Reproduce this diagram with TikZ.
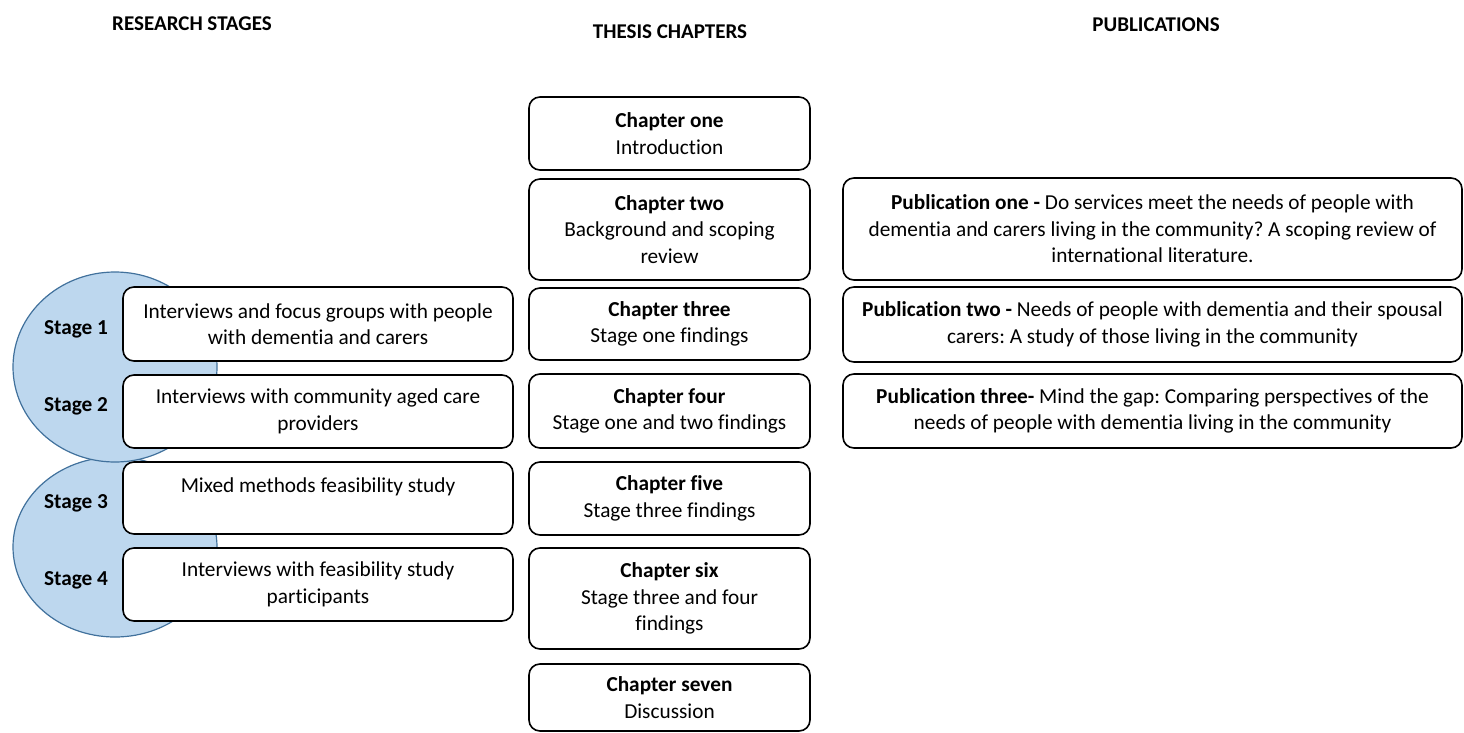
\documentclass[tikz,border=0pt]{standalone}
\usepackage{fontspec}
\setmainfont[Ligatures=NoCommon]{Carlito}
\usepackage{tikz}
\usetikzlibrary{shapes.geometric}
\definecolor{stageFill}{RGB}{189,215,238}
\definecolor{stageEdge}{RGB}{65,113,156}
\frenchspacing
\begin{document}
\begin{tikzpicture}[x=1pt, y=-1pt]
  \tikzstyle{box} = [draw, line width=1.6pt, fill=white, rectangle, rounded corners=11pt, align=center, inner sep=0pt, font={\fontsize{21.3}{26.5}\selectfont}]
  \tikzstyle{chapter} = [box, minimum width=281pt];
  \tikzstyle{stagebox} = [box, minimum width=390pt, minimum height=73pt];
  \tikzstyle{pub} = [box, minimum width=619pt];
  \tikzstyle{stageCircle} = [draw=stageEdge, line width=1.2pt, fill=stageFill, ellipse, inner sep=0pt, minimum width=204pt];
  \tikzstyle{stageLabel} = [font={\fontsize{21.3}{26.5}\selectfont\bfseries}];
  \tikzstyle{header} = [font={\fontsize{21}{26.5}\selectfont\bfseries}];
  \useasboundingbox (0,0) rectangle (1464,733);

  \node[header, name=hStages] at (192,24) {RESEARCH STAGES};
  \node[header, name=hChapters] at (670,32) {THESIS CHAPTERS};
  \node[header, name=hPubs] at (1156,25) {PUBLICATIONS};

  % circles behind the stage boxes
  \node[stageCircle, minimum height=180pt, name=circTwo] at (115,547) {};
  \node[stageCircle, minimum height=190pt, name=circOne] at (115,367) {};
  \node[stageLabel, name=lOne] at (76,329) {Stage 1};
  \node[stageLabel, name=lTwo] at (76,406) {Stage 2};
  \node[stageLabel, name=lThree] at (76,503) {Stage 3};
  \node[stageLabel, name=lFour] at (76,580) {Stage 4};

  \node[stagebox, minimum height=74pt, name=sOne] at (318,324) {Interviews and focus groups with people\\with dementia and carers};
  \node[stagebox, name=sTwo] at (318,411.5) {Interviews with community aged care\\providers};
  \node[stagebox, minimum height=72pt, name=sThree] at (318,498) {Mixed methods feasibility study\\\mbox{}};
  \node[stagebox, name=sFour] at (318,584.5) {Interviews with feasibility study\\participants};

  \node[chapter, minimum height=73pt, name=chOne] at (669.5,133.5) {\textbf{Chapter one}\\Introduction};
  \node[chapter, minimum height=101pt, name=chTwo] at (669.5,229.5) {\textbf{Chapter two}\\Background and scoping\\review};
  \node[chapter, minimum height=72pt, name=chThree] at (669.5,324) {\textbf{Chapter three}\\Stage one findings};
  \node[chapter, minimum height=74pt, name=chFour] at (669.5,411) {\textbf{Chapter four}\\Stage one and two findings};
  \node[chapter, minimum height=73pt, name=chFive] at (669.5,498.5) {\textbf{Chapter five}\\Stage three findings};
  \node[chapter, minimum height=101pt, name=chSix] at (669.5,598.5) {\textbf{Chapter six}\\Stage three and four\\findings};
  \node[chapter, minimum height=67pt, name=chSeven] at (669.5,697.5) {\textbf{Chapter seven}\\Discussion};

  \node[pub, minimum height=102pt, name=pOne] at (1152.5,229) {\textbf{Publication one -} Do services meet the needs of people with\\dementia and carers living in the community? A scoping review of\\international literature.};
  \node[pub, minimum height=75pt, name=pTwo] at (1152.5,324.5) {\textbf{Publication two -} Needs of people with dementia and their spousal\\carers: A study of those living in the community};
  \node[pub, minimum height=74pt, name=pThree] at (1152.5,411) {\textbf{Publication three-} Mind the gap: Comparing perspectives of the\\needs of people with dementia living in the community};
\end{tikzpicture}
\end{document}
